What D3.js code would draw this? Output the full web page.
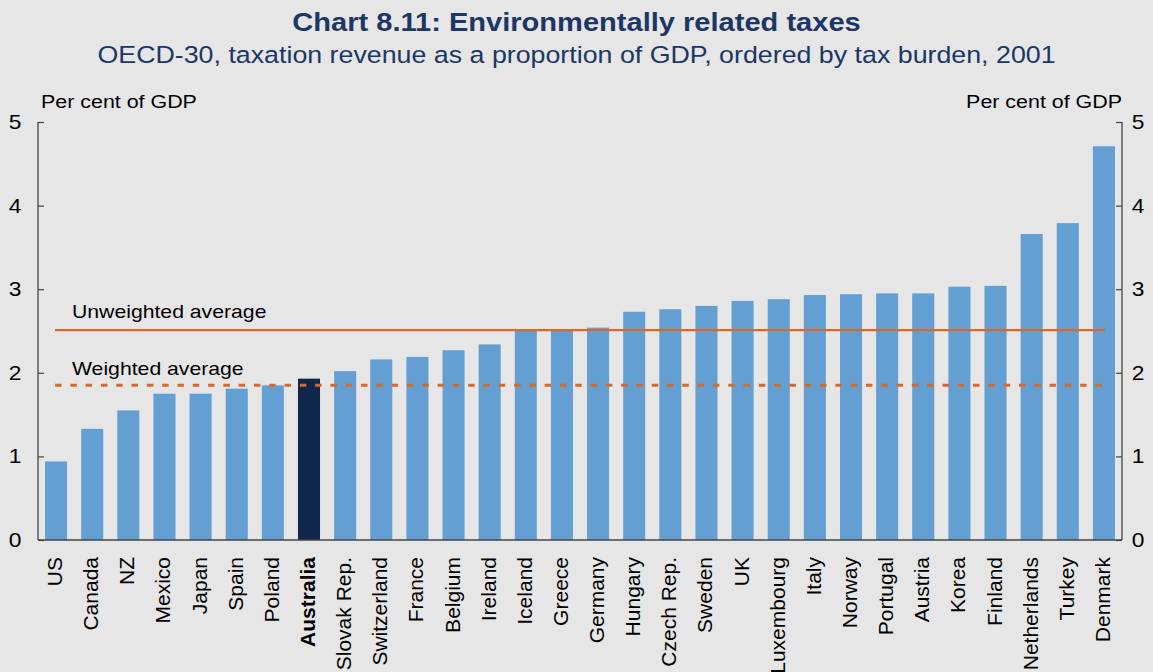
<!DOCTYPE html>
<html>
<head>
<meta charset="utf-8">
<script src="https://cdn.jsdelivr.net/npm/d3@7/dist/d3.min.js"></script>
<style>
  html, body { margin: 0; padding: 0; background: #e6e6e6; }
  svg { display: block; font-family: "Liberation Sans", Arial, sans-serif; }
</style>
</head>
<body>
<svg id="chart" width="1153" height="672"></svg>
<script>
// Environmentally related taxes, per cent of GDP, 2001
const countries = ["US","Canada","NZ","Mexico","Japan","Spain","Poland","Australia","Slovak Rep.","Switzerland","France","Belgium","Ireland","Iceland","Greece","Germany","Hungary","Czech Rep.","Sweden","UK","Luxembourg","Italy","Norway","Portugal","Austria","Korea","Finland","Netherlands","Turkey","Denmark"];
const taxShare = [0.94,1.33,1.55,1.75,1.75,1.81,1.85,1.93,2.02,2.16,2.19,2.27,2.34,2.51,2.52,2.54,2.73,2.76,2.80,2.86,2.88,2.93,2.94,2.95,2.95,3.03,3.04,3.66,3.79,4.71];
const yTicks = [0,1,2,3,4,5];
const unweightedAvg = 2.51;
const weightedAvg = 1.85;
const highlight = "Australia";

const svg = d3.select("#chart");
const W = 1153;
const plotLeft = 38, plotRight = 1122, plotTop = 122, plotBottom = 540;
const sx = 1.14; // horizontal widening of the chart's lettering

const x = d3.scaleBand().domain(countries).range([plotLeft, plotRight])
  .paddingInner(0.39).paddingOuter(0.195);
const y = d3.scaleLinear().domain([0, 5]).range([plotBottom, plotTop]);

const navy = "#1c3766";
const orange = "#d9692a";

// Horizontal text, slightly widened
function label(px, py, str, size, opts = {}) {
  const t = svg.append("text")
    .attr("transform", `translate(${px},${py}) scale(${sx},1)`)
    .attr("font-size", size)
    .attr("fill", opts.fill || "#000")
    .attr("text-anchor", opts.anchor || "start")
    .text(str);
  if (opts.bold) t.attr("font-weight", "bold");
  return t;
}

// Titles
label(W / 2, 31, "Chart 8.11: Environmentally related taxes", 25.5, { anchor: "middle", bold: true, fill: navy });
label(W / 2, 63, "OECD-30, taxation revenue as a proportion of GDP, ordered by tax burden, 2001", 23.5, { anchor: "middle", fill: navy });

// Axis unit labels
label(41, 108, "Per cent of GDP", 18.8);
label(plotRight, 108, "Per cent of GDP", 18.8, { anchor: "end" });

// Bars
svg.append("g").selectAll("rect").data(countries).join("rect")
  .attr("x", d => x(d))
  .attr("y", (d, i) => y(taxShare[i]))
  .attr("width", x.bandwidth())
  .attr("height", (d, i) => y(0) - y(taxShare[i]))
  .attr("fill", d => d === highlight ? "#0f274a" : "#639fd3");

// Average lines
const lineX0 = x(countries[0]) + 10, lineX1 = x(countries[countries.length - 1]) + 12;
svg.append("line").attr("x1", lineX0).attr("x2", lineX1)
  .attr("y1", y(unweightedAvg)).attr("y2", y(unweightedAvg))
  .attr("stroke", orange).attr("stroke-width", 2.4);
svg.append("line").attr("x1", lineX0).attr("x2", lineX1)
  .attr("y1", y(weightedAvg)).attr("y2", y(weightedAvg))
  .attr("stroke", orange).attr("stroke-width", 3).attr("stroke-dasharray", "6.5,8.8");
label(72, y(unweightedAvg) - 12, "Unweighted average", 18.6);
label(72, y(weightedAvg) - 10, "Weighted average", 18.6);

// Axes
const axisColor = "#444";
const leftAxis = svg.append("g").attr("transform", `translate(${plotLeft},0)`)
  .call(d3.axisRight(y).tickValues(yTicks).tickSize(6).tickFormat(""));
const rightAxis = svg.append("g").attr("transform", `translate(${plotRight},0)`)
  .call(d3.axisLeft(y).tickValues(yTicks).tickSize(6).tickFormat(""));
[leftAxis, rightAxis].forEach(g => {
  g.select(".domain").attr("stroke", axisColor).attr("stroke-width", 1.3)
    .attr("d", `M0,${plotTop}V${plotBottom}`);
  g.selectAll(".tick line").attr("stroke", axisColor).attr("stroke-width", 1.2);
});
svg.append("line").attr("x1", plotLeft).attr("x2", plotRight)
  .attr("y1", plotBottom).attr("y2", plotBottom)
  .attr("stroke", axisColor).attr("stroke-width", 1.5);

// Tick labels
yTicks.forEach(v => {
  label(15, y(v) + 7, v, 20, { anchor: "middle" });
  label(1138, y(v) + 7, v, 20, { anchor: "middle" });
});

// Category labels
svg.append("g").selectAll("text").data(countries).join("text")
  .attr("transform", d => `translate(${x(d) + x.bandwidth() / 2 + 6},557) rotate(-90)`)
  .attr("text-anchor", "end")
  .attr("font-size", 21)
  .attr("font-weight", d => d === highlight ? "bold" : "normal")
  .attr("fill", "#000")
  .text(d => d);
</script>
</body>
</html>
